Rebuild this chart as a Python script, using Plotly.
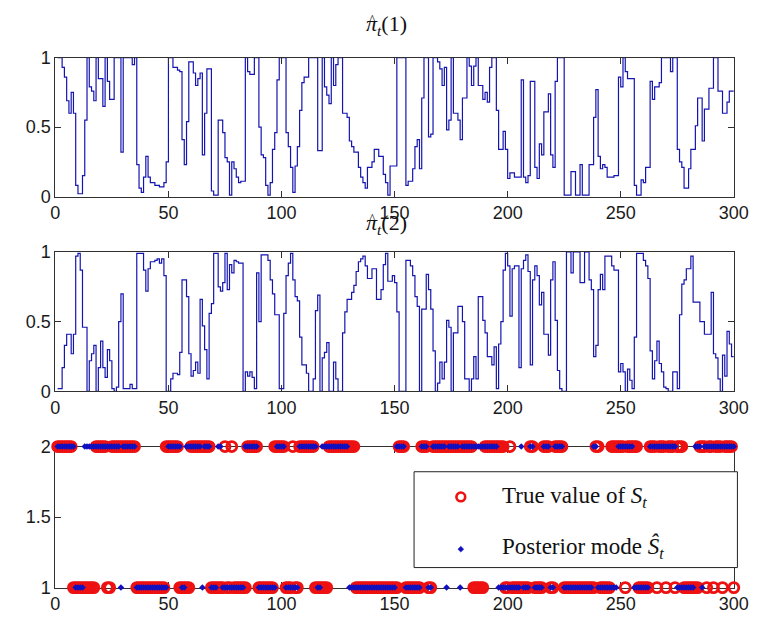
import plotly.graph_objects as go

# ---------------- data ----------------
# step series given as (start t, value) runs; each value holds until next start
pi1_runs = [(1,1.0),(3,0.93),(4,0.86),(5,0.69),(6,0.6),(7,0.75),(8,0.6),(9,0.08),(10,0.02),(12,0.15),(13,0.55),(14,1.0),(15,0.79),(16,0.76),(17,0.69),(18,1.0),(19,0.85),(21,0.65),(22,1.0),(23,0.83),(24,0.7),(26,1.0),(29,0.32),(30,1.0),(34,0.95),(35,1.0),(36,0.23),(37,0.06),(38,0.03),(39,0.14),(40,0.29),(41,0.14),(42,0.1),(44,0.08),(46,0.07),(48,0.1),(49,0.25),(50,1.0),(52,0.93),(54,0.91),(55,0.9),(56,0.41),(57,0.23),(58,0.54),(59,0.97),(61,0.89),(62,0.8),(63,0.85),(64,0.89),(65,0.3),(66,0.6),(67,0.92),(69,0.04),(70,0.01),(72,0.55),(74,0.46),(75,0.28),(76,0.25),(77,0.01),(78,0.25),(79,0.2),(80,0.14),(81,0.1),(82,0.11),(84,1.0),(85,0.9),(86,0.88),(88,1.0),(90,0.5),(91,0.3),(92,0.28),(93,0.08),(94,0.01),(95,0.1),(96,0.34),(97,0.46),(98,0.84),(99,1.0),(102,0.46),(103,0.36),(104,0.21),(105,0.03),(106,0.22),(107,0.36),(108,0.62),(109,0.82),(110,0.86),(112,1.0),(116,0.33),(118,1.0),(119,0.79),(120,0.73),(121,0.67),(122,1.0),(123,0.8),(124,0.95),(125,1.0),(127,0.6),(129,0.57),(130,0.4),(131,0.36),(132,0.32),(134,0.21),(135,0.14),(136,0.1),(137,0.06),(138,0.21),(140,0.25),(141,0.34),(143,0.29),(145,0.16),(146,0.1),(147,0.01),(148,0.22),(151,1.0),(155,0.08),(156,0.11),(158,0.2),(159,0.36),(160,0.41),(161,0.2),(162,0.71),(163,1.0),(165,0.43),(166,0.45),(167,1.0),(169,0.97),(170,0.92),(171,0.8),(172,0.93),(173,0.48),(174,0.55),(175,1.0),(176,0.6),(178,0.55),(179,0.41),(180,0.71),(182,1.0),(183,0.94),(184,0.8),(185,0.94),(186,1.0),(187,0.8),(189,0.7),(190,0.75),(191,0.68),(192,0.93),(193,1.0),(195,0.62),(196,0.34),(198,0.47),(199,0.34),(200,0.13),(201,0.17),(203,0.14),(206,0.84),(207,0.14),(208,0.1),(209,0.15),(210,0.83),(212,0.21),(213,0.13),(214,0.38),(215,0.3),(216,0.61),(218,0.74),(219,0.3),(220,0.21),(221,0.83),(222,1.0),(225,0.01),(228,0.18),(230,0.01),(232,0.23),(233,0.01),(236,0.23),(238,0.57),(239,0.77),(240,0.29),(241,0.2),(242,0.23),(243,0.21),(244,0.14),(247,0.15),(249,0.86),(250,0.79),(251,1.0),(252,0.9),(253,0.85),(256,0.08),(257,0.01),(259,0.12),(260,0.1),(261,0.21),(263,0.83),(264,0.7),(265,0.79),(267,0.82),(268,1.0),(272,0.9),(273,1.0),(275,0.34),(276,0.25),(277,0.21),(278,0.06),(280,0.2),(281,0.34),(283,0.51),(284,0.71),(286,0.4),(287,0.63),(289,0.78),(291,1.0),(293,0.76),(295,0.6),(297,0.68),(298,0.76),(300,0.76)]

pi2_runs = [(1,0.02),(3,0.17),(4,0.33),(5,0.41),(7,0.27),(8,0.41),(9,0.97),(10,0.99),(11,0.87),(12,0.46),(14,0.0),(15,0.22),(16,0.27),(17,0.33),(18,0.0),(19,0.17),(20,0.36),(21,0.17),(22,0.1),(23,0.3),(24,0.22),(25,0.02),(26,0.0),(27,0.03),(28,0.5),(29,0.7),(30,0.02),(33,0.05),(34,0.02),(36,0.99),(39,0.87),(40,0.72),(41,0.88),(42,0.93),(44,0.94),(45,0.95),(46,0.92),(47,0.95),(48,0.83),(49,0.0),(51,0.09),(52,0.13),(54,0.12),(55,0.28),(56,0.8),(58,0.68),(59,0.27),(60,0.11),(61,0.15),(62,0.21),(63,0.13),(64,0.66),(65,0.47),(66,0.3),(67,0.09),(68,0.56),(69,0.63),(70,0.99),(72,0.75),(73,0.72),(74,0.78),(75,0.99),(76,0.73),(77,0.91),(78,0.85),(79,0.94),(80,0.93),(81,0.92),(83,0.0),(84,0.14),(85,0.11),(86,0.14),(87,0.1),(88,0.02),(89,0.85),(90,0.5),(91,0.98),(94,0.94),(95,0.8),(96,0.7),(97,0.55),(99,0.02),(101,0.56),(102,0.83),(103,0.92),(104,0.99),(105,0.8),(106,0.68),(107,0.65),(108,0.39),(109,0.19),(111,0.13),(112,0.0),(114,0.09),(115,0.58),(116,0.69),(117,0.0),(118,0.24),(119,0.28),(120,0.35),(121,0.0),(123,0.21),(124,0.09),(125,0.0),(127,0.42),(128,0.57),(129,0.66),(131,0.71),(132,0.76),(133,0.86),(134,0.93),(135,0.95),(136,0.97),(137,0.9),(138,0.81),(140,0.88),(142,0.66),(144,0.73),(145,0.91),(146,0.99),(147,0.79),(149,0.83),(150,0.78),(151,0.57),(152,0.0),(155,0.94),(157,0.9),(158,0.83),(159,0.68),(160,0.61),(161,0.0),(162,0.59),(164,0.84),(165,0.73),(166,0.59),(167,0.29),(168,0.0),(169,0.06),(170,0.21),(171,0.09),(172,0.21),(173,0.51),(174,0.46),(175,0.0),(176,0.42),(178,0.61),(180,0.5),(181,0.09),(183,0.0),(184,0.09),(185,0.25),(186,0.09),(187,0.68),(189,0.51),(190,0.42),(191,0.25),(193,0.19),(194,0.32),(195,0.02),(196,0.34),(197,0.5),(198,0.87),(199,0.99),(200,0.9),(201,0.54),(202,0.88),(203,0.9),(205,0.17),(206,0.88),(207,0.94),(208,0.98),(209,0.86),(210,0.19),(211,0.8),(212,0.9),(213,0.83),(214,0.62),(215,0.71),(216,0.41),(218,0.26),(219,0.8),(220,0.93),(221,0.51),(222,0.15),(223,0.02),(224,0.0),(226,1.0),(228,0.85),(229,1.0),(232,0.78),(234,1.0),(236,0.8),(237,0.73),(238,0.25),(239,0.33),(240,0.73),(241,0.84),(242,0.73),(243,0.97),(246,0.9),(247,0.87),(249,0.14),(250,0.2),(251,0.14),(252,0.0),(253,0.16),(254,0.08),(255,0.02),(256,0.39),(257,0.99),(260,0.94),(261,0.9),(262,0.81),(263,0.29),(264,0.09),(265,0.22),(266,0.36),(267,0.2),(268,0.14),(269,0.03),(270,0.02),(271,0.0),(273,0.14),(275,0.02),(276,0.55),(277,0.77),(278,0.8),(279,0.88),(281,0.97),(282,0.64),(285,0.5),(287,0.41),(290,0.71),(291,0.27),(292,0.24),(293,0.09),(294,0.0),(295,0.26),(296,0.11),(297,0.43),(298,0.34),(299,0.25),(300,0.25)]

true_runs = [(1,2),(8,1),(18,2),(23,1),(25,2),(36,1),(49,2),(55,1),(60,2),(69,1),(75,2),(76,1),(78,2),(79,1),(85,2),(90,1),(97,2),(102,1),(105,2),(106,1),(108,2),(115,1),(121,2),(133,1),(152,2),(155,1),(162,2),(165,1),(167,2),(185,1),(190,2),(199,1),(201,2),(202,1),(210,2),(212,1),(216,2),(219,1),(221,2),(225,1),(239,2),(241,1),(246,2),(252,1),(253,2),(258,1),(263,2),(266,1),(267,2),(270,1),(271,2),(274,1),(275,2),(278,1),(285,2),(288,1),(289,2),(291,1),(292,2),(295,1),(296,2),(300,1)]

mode_runs = [(1,2),(9,1),(13,2),(29,1),(30,2),(36,1),(50,2),(56,1),(58,2),(65,1),(66,2),(69,1),(72,2),(74,1),(84,2),(90,1),(98,2),(102,1),(108,2),(116,1),(118,2),(130,1),(151,2),(155,1),(162,2),(165,1),(167,2),(173,1),(174,2),(179,1),(180,2),(196,1),(206,2),(207,1),(210,2),(212,1),(216,2),(219,1),(221,2),(225,1),(238,2),(240,1),(249,2),(256,1),(263,2),(275,1),(283,2),(286,1),(287,2)]

T_END = 300
x_ticks = [0, 50, 100, 150, 200, 250, 300]
y_ticks_prob = [0, 0.5, 1]
y_ticks_state = [1, 1.5, 2]

# ---------------- helpers ----------------
def stair_xy(runs):
    xs = [r[0] for r in runs]
    ys = [r[1] for r in runs]
    if xs[-1] != T_END:
        xs.append(T_END); ys.append(ys[-1])
    return xs, ys

def expand(runs):
    out = []
    for i, (s, v) in enumerate(runs):
        e = runs[i + 1][0] if i + 1 < len(runs) else T_END + 1
        out.extend([v] * (e - s))
    return out[:T_END]

W, H = 768, 625
def px(x): return x / W
def py(y): return 1 - y / H

xl, xr = 51.7, 748.3
panels = [(49.3, 192.7), (250.0, 394.0), (451.0, 596.7)]

fig = go.Figure()
LINE = dict(color="#1414b0", width=1.2)

x1, y1 = stair_xy(pi1_runs)
fig.add_trace(go.Scatter(x=x1, y=y1, mode="lines", line=LINE, line_shape="hv",
                         xaxis="x", yaxis="y", showlegend=False))
x2, y2 = stair_xy(pi2_runs)
fig.add_trace(go.Scatter(x=x2, y=y2, mode="lines", line=LINE, line_shape="hv",
                         xaxis="x2", yaxis="y2", showlegend=False))

t = list(range(1, T_END + 1))
fig.add_trace(go.Scatter(x=t, y=expand(true_runs), mode="markers", cliponaxis=False,
                         marker=dict(symbol="circle-open", size=10, color="#ee1111",
                                     line=dict(width=2.8, color="#ee1111")),
                         xaxis="x3", yaxis="y3", showlegend=False))
fig.add_trace(go.Scatter(x=t, y=expand(mode_runs), mode="markers", cliponaxis=False,
                         marker=dict(symbol="diamond", size=5, color="#1010c0", line=dict(width=0)),
                         xaxis="x3", yaxis="y3", showlegend=False))

TICKFONT = dict(family="Liberation Sans, Arial, sans-serif", size=18, color="#1a1a1a")
axis_common = dict(showline=True, linecolor="#303030", linewidth=1, mirror="ticks",
                   ticks="inside", ticklen=6, tickcolor="#303030", showgrid=False,
                   zeroline=False, tickfont=TICKFONT, fixedrange=True)

layout = dict(width=W, height=H, autosize=False,
              margin=dict(l=0, r=0, t=0, b=0),
              paper_bgcolor="white", plot_bgcolor="white", showlegend=False)
for i, (top, bot) in enumerate(panels):
    sfx = "" if i == 0 else str(i + 1)
    layout["xaxis" + sfx] = dict(axis_common, domain=[px(xl), px(xr)], range=[0, T_END],
                                 tickvals=x_ticks, ticktext=[str(v) for v in x_ticks],
                                 anchor="y" + sfx)
    if i < 2:
        yv, yr = y_ticks_prob, [0, 1]
    else:
        yv, yr = y_ticks_state, [1, 2]
    layout["yaxis" + sfx] = dict(axis_common, domain=[py(bot), py(top)], range=yr,
                                 tickvals=yv, ticktext=[("%g" % v) for v in yv],
                                 anchor="x" + sfx)
layout["xaxis3"]["layer"] = "below traces"
layout["yaxis3"]["layer"] = "below traces"
fig.update_layout(**layout)

SERIF = "Liberation Serif, Times New Roman, serif"
TFONT = dict(family=SERIF, size=22, color="#111")
for label, ycen in (("1", 16), ("2", 221)):
    fig.add_annotation(xref="paper", yref="paper", x=px(369), y=py(ycen), xanchor="left",
                       yanchor="middle", showarrow=False, font=TFONT,
                       text=f"<i>π</i><sub><i>t</i></sub>({label})")
    fig.add_annotation(xref="paper", yref="paper", x=px(377), y=py(ycen - 5), xanchor="center",
                       yanchor="middle", showarrow=False, font=dict(family=SERIF, size=14, color="#111"),
                       text="^")

# legend box (drawn as shapes/annotations)
fig.add_shape(type="rect", xref="paper", yref="paper", x0=px(420), x1=px(752),
              y0=py(576), y1=py(477), line=dict(color="#222", width=1), fillcolor="white",
              layer="above")
fig.add_shape(type="circle", xref="paper", yref="paper", x0=px(463.5), x1=px(472.5),
              y0=py(507.5), y1=py(498.5), line=dict(color="#ee1111", width=2.6), layer="above")
fig.add_shape(type="path", xref="paper", yref="paper",
              path=f"M {px(468)} {py(554)} L {px(471)} {py(557)} L {px(468)} {py(560)} L {px(465)} {py(557)} Z",
              fillcolor="#1010c0", line=dict(color="#1010c0", width=0.5), layer="above")
LFONT = dict(family=SERIF, size=23, color="#111")
fig.add_annotation(xref="paper", yref="paper", x=px(508), y=py(503), xanchor="left", yanchor="middle",
                   showarrow=False, text="True value of <i>S</i><sub><i>t</i></sub>", font=LFONT)
fig.add_annotation(xref="paper", yref="paper", x=px(508), y=py(555), xanchor="left", yanchor="middle",
                   showarrow=False, text="Posterior mode <i>Ŝ</i><sub><i>t</i></sub>", font=LFONT)

fig.write_html("out.html")
